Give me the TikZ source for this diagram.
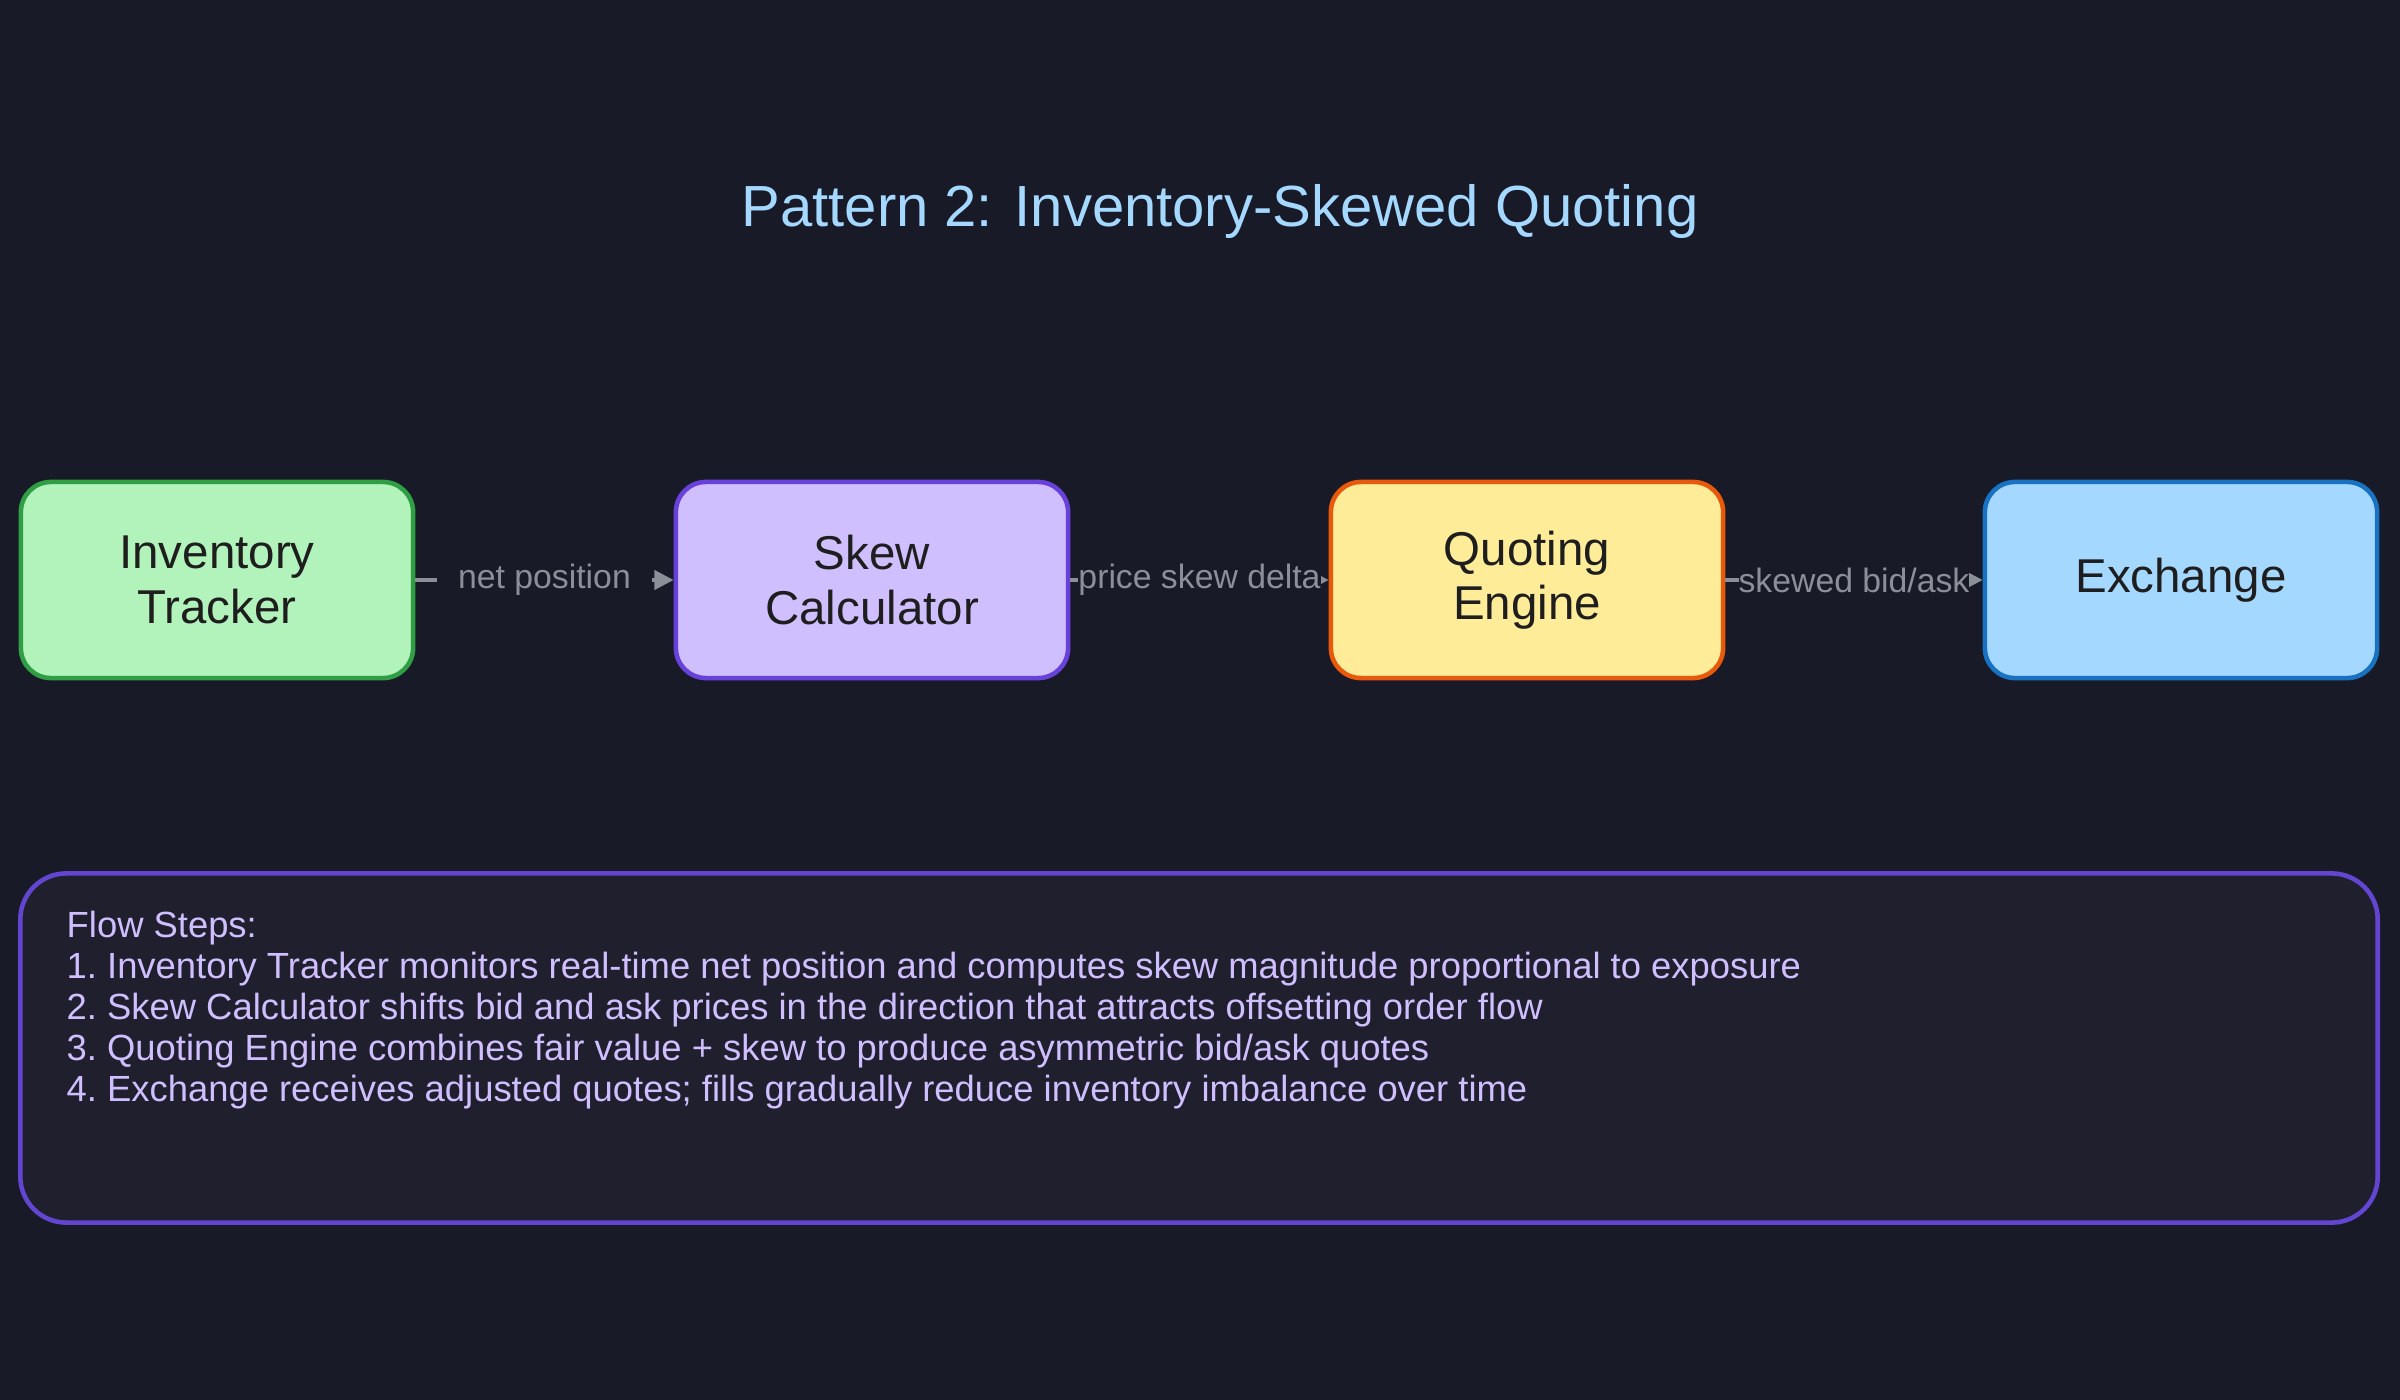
\documentclass[tikz,border=0pt]{standalone}
\usepackage{fontspec}
\setmainfont{Liberation Sans}
\usetikzlibrary{arrows.meta}
\definecolor{bg}{HTML}{181A27}
\definecolor{panelfill}{HTML}{1F1F2E}
\definecolor{panelline}{HTML}{6245D0}
\definecolor{titlecol}{HTML}{A5D8FF}
\definecolor{stepcol}{HTML}{D0BFFF}
\definecolor{edgecol}{HTML}{8A8F98}
\definecolor{ink}{HTML}{1E1E1E}
\definecolor{greenfill}{HTML}{B2F2BB}\definecolor{greenline}{HTML}{2F9E44}
\definecolor{purplefill}{HTML}{D0BFFF}\definecolor{purpleline}{HTML}{6741D9}
\definecolor{yellowfill}{HTML}{FFEC99}\definecolor{yellowline}{HTML}{E8590C}
\definecolor{bluefill}{HTML}{A5D8FF}\definecolor{blueline}{HTML}{1971C2}
\tikzset{
  box/.style={draw, line width=1.3pt, rounded corners=0.3cm, minimum width=3.92cm,
    minimum height=1.96cm, align=center, text=ink, font=\fontsize{13.5}{15.5}\selectfont},
  conn/.style={draw=edgecol, line width=1pt, -{Triangle[length=5.5pt,width=5.5pt]}},
  elabel/.style={fill=bg, text=edgecol, inner xsep=0pt, inner ysep=2pt, font=\fontsize{9.6}{12}\selectfont},
  panelbox/.style={draw=panelline, fill=panelfill, line width=1.3pt, rounded corners=0.46cm,
    minimum width=23.56cm, minimum height=3.49cm},
  steptext/.style={text=stepcol, align=left, inner sep=0pt, font=\fontsize{10.35}{11.7}\selectfont\frenchspacing},
  titletext/.style={text=titlecol, font=\fontsize{16.5}{20}\selectfont}
}
\begin{document}
\begin{tikzpicture}[x=0.01cm,y=-0.01cm]
\fill[bg] (0,0) rectangle (2400,1400);
\useasboundingbox (0,0) rectangle (2400,1400);
\node[titletext] (title) at (1220,211) {Pattern 2: Inventory-Skewed Quoting};
\node[box, fill=greenfill, draw=greenline] (inv) at (217,580) {Inventory\\Tracker};
\node[box, fill=purplefill, draw=purpleline] (skew) at (872,580) {Skew\\Calculator};
\node[box, fill=yellowfill, draw=yellowline] (quote) at (1527,580) {Quoting\\Engine};
\node[box, fill=bluefill, draw=blueline] (exch) at (2181,580) {Exchange};
\draw[conn] (inv.east) -- node[elabel, inner xsep=6pt] (l1) {net position} (skew.west);
\draw[conn] (skew.east) -- node[elabel] (l2) {price skew delta} (quote.west);
\draw[conn] (quote.east) -- node[elabel] (l3) {skewed bid/ask} (exch.west);
\node[panelbox] (panel) at (1199,1048) {};
\node[steptext, anchor=north west] (steps) at (66,910) {Flow Steps:\\
1. Inventory Tracker monitors real-time net position and computes skew magnitude proportional to exposure\\
2. Skew Calculator shifts bid and ask prices in the direction that attracts offsetting order flow\\
3. Quoting Engine combines fair value + skew to produce asymmetric bid/ask quotes\\
4. Exchange receives adjusted quotes; fills gradually reduce inventory imbalance over time};
\end{tikzpicture}
\end{document}
